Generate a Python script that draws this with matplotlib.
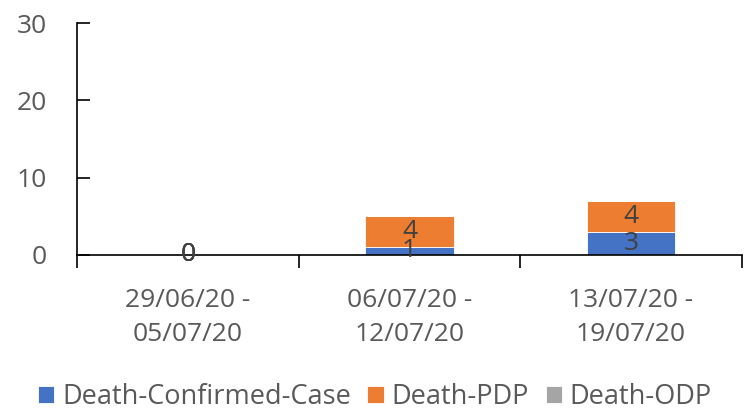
import matplotlib
matplotlib.use("Agg")
import matplotlib.pyplot as plt
import numpy as np

categories = ["29/06/20 -\n05/07/20", "06/07/20 -\n12/07/20", "13/07/20 -\n19/07/20"]
confirmed = [0, 1, 3]
pdp = [0, 4, 4]
odp = [0, 0, 0]
series_names = ["Death-Confirmed-Case", "Death-PDP", "Death-ODP"]
series_colors = ["#4472C4", "#ED7D31", "#A5A5A5"]

plt.rcParams["font.family"] = ["Open Sans", "DejaVu Sans"]
text_grey = "#595959"

fig = plt.figure(figsize=(7.5, 4.11), dpi=100)
ax = fig.add_axes([0.103, 0.38, 0.886, 0.564])

x = np.arange(len(categories))
bottom = np.zeros(len(categories))
for vals, name, col in zip([confirmed, pdp, odp], series_names, series_colors):
    vals = np.array(vals, dtype=float)
    ax.bar(x, vals, 0.4, bottom=bottom, color=col, label=name,
           edgecolor="white", linewidth=0.6)
    for xi, b, v in zip(x, bottom, vals):
        # zero labels only show where the whole stack is empty
        if v == 0 and b > 0:
            continue
        ax.text(xi, b + v / 2, f"{int(v)}", ha="center", va="center",
                fontsize=19, color="#404040")
    bottom += vals

ax.set_xlim(-0.5, len(categories) - 0.5)
ax.set_ylim(0, 30)
ax.set_yticks([0, 10, 20, 30])
ax.set_xticks(x)
ax.set_xticklabels(categories, fontsize=19, color=text_grey, linespacing=1.45)
ax.tick_params(axis="x", length=0, pad=24)
ax.set_xticks(np.arange(len(categories) + 1) - 0.5, minor=True)
ax.tick_params(axis="x", which="minor", length=9, width=1.2, direction="out")
ax.tick_params(axis="y", labelsize=19, labelcolor=text_grey, direction="in",
               length=9, width=1.2, pad=22)

for s in ["top", "right"]:
    ax.spines[s].set_visible(False)
ax.spines["left"].set_linewidth(1.2)
ax.spines["bottom"].set_linewidth(1.2)

leg = fig.legend(loc="lower center", bbox_to_anchor=(0.5, -0.06), ncol=3,
                 frameon=False, fontsize=19.5, handlelength=0.6, handleheight=0.6,
                 handletextpad=0.3, columnspacing=0.6)
for t in leg.get_texts():
    t.set_color(text_grey)

fig.savefig("out.png", dpi=100)
